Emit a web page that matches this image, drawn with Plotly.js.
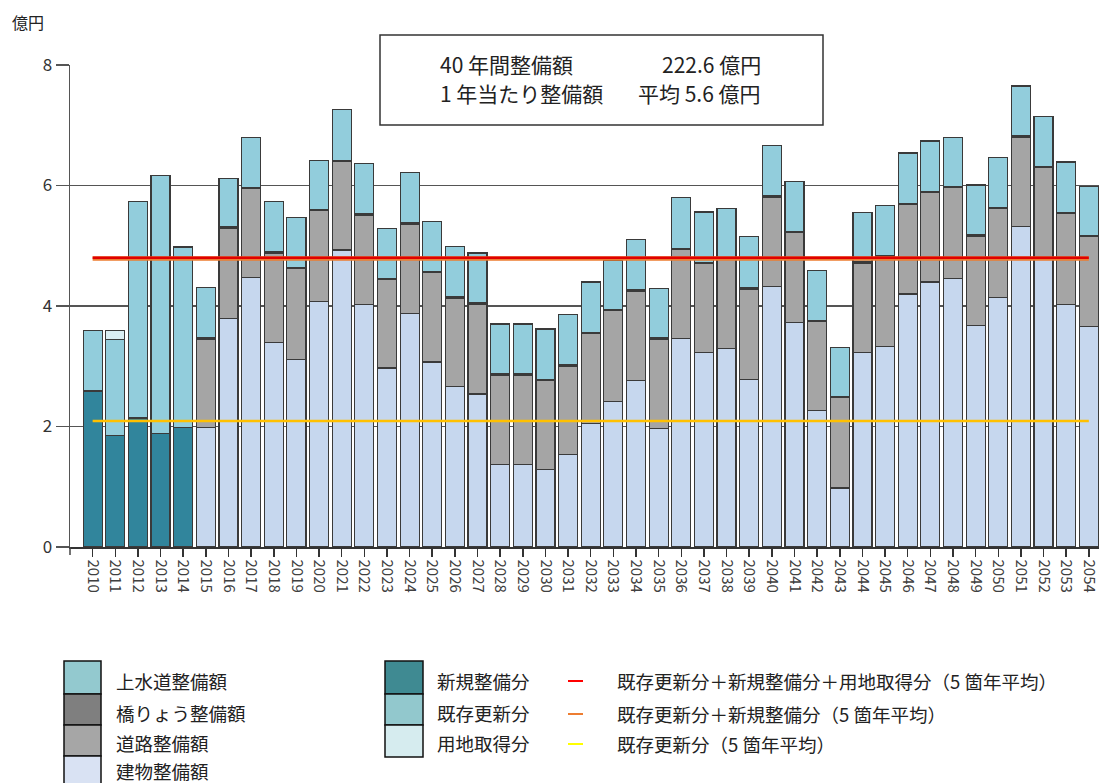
<!DOCTYPE html>
<html>
<head>
<meta charset="utf-8">
<script src="https://cdn.plot.ly/plotly-3.0.1.min.js"></script>
<style>
html,body{margin:0;padding:0;background:#fff;}
#chart{width:1099px;height:783px;}
</style>
</head>
<body>
<div id="chart"></div>
<script>
// ---- Data ----
const years = ["2010","2011","2012","2013","2014","2015","2016","2017","2018","2019","2020","2021","2022","2023","2024","2025","2026","2027","2028","2029","2030","2031","2032","2033","2034","2035","2036","2037","2038","2039","2040","2041","2042","2043","2044","2045","2046","2047","2048","2049","2050","2051","2052","2053","2054"];

// 2010-2014 (実績)
const newDev      = [2.59, 1.85, 2.14, 1.88, 1.98];
const existRenew  = [1.00, 1.59, 3.59, 4.29, 3.00];
const landAcq     = [0.00, 0.15, 0.00, 0.00, 0.00];

// 2015-2054 (推計)
const building = [1.98,3.79,4.47,3.40,3.11,4.08,4.93,4.03,2.97,3.88,3.07,2.66,2.54,1.37,1.37,1.28,1.53,2.05,2.42,2.77,1.97,3.46,3.23,3.29,2.78,4.33,3.72,2.26,0.98,3.23,3.33,4.20,4.40,4.46,3.68,4.14,5.32,4.80,4.03,3.66];
const road     = [1.47,1.50,1.48,1.48,1.51,1.50,1.47,1.48,1.47,1.48,1.48,1.47,1.49,1.48,1.48,1.48,1.47,1.49,1.50,1.48,1.48,1.48,1.47,1.50,1.50,1.48,1.50,1.48,1.50,1.48,1.49,1.48,1.48,1.51,1.48,1.48,1.48,1.50,1.50,1.49];
const bridge   = [0.02,0.02,0.02,0.02,0.02,0.02,0.02,0.02,0.02,0.02,0.02,0.02,0.02,0.02,0.02,0.02,0.02,0.02,0.02,0.02,0.02,0.02,0.02,0.02,0.02,0.02,0.02,0.02,0.02,0.02,0.02,0.02,0.02,0.02,0.02,0.02,0.02,0.02,0.02,0.02];
const water    = [0.84,0.81,0.83,0.83,0.83,0.81,0.84,0.84,0.83,0.83,0.83,0.84,0.83,0.83,0.83,0.84,0.84,0.84,0.81,0.83,0.82,0.84,0.84,0.81,0.85,0.84,0.82,0.83,0.81,0.82,0.83,0.84,0.84,0.81,0.83,0.83,0.83,0.83,0.84,0.82];

// 5箇年平均
const avgAll      = 4.80; // 既存更新分＋新規整備分＋用地取得分
const avgNewExist = 4.79; // 既存更新分＋新規整備分
const avgExist    = 2.09; // 既存更新分

const actualYears = years.slice(0, 5);
const futureYears = years.slice(5);

const FONT = '"Noto Sans CJK JP", "Noto Sans", sans-serif';
const outline = {color: '#3a3a3a', width: 1.2};

function bar(name, x, y, color) {
  return {type: 'bar', name: name, x: x, y: y, marker: {color: color, line: outline},
          showlegend: false, hoverinfo: 'x+y+name'};
}

const traces = [
  bar('新規整備分', actualYears, newDev, '#31859C'),
  bar('既存更新分', actualYears, existRenew, '#92CDDC'),
  bar('用地取得分', actualYears, landAcq, '#DAEEF3'),
  bar('建物整備額', futureYears, building, '#C6D7EE'),
  bar('道路整備額', futureYears, road, '#A5A5A5'),
  bar('橋りょう整備額', futureYears, bridge, '#7F7F7F'),
  bar('上水道整備額', futureYears, water, '#92CDDC'),
  {type: 'scatter', mode: 'lines', name: '既存更新分＋新規整備分（5箇年平均）',
   x: [years[0], years[years.length-1]], y: [avgNewExist, avgNewExist],
   line: {color: '#ED7D31', width: 4.5}, showlegend: false},
  {type: 'scatter', mode: 'lines', name: '既存更新分＋新規整備分＋用地取得分（5箇年平均）',
   x: [years[0], years[years.length-1]], y: [avgAll, avgAll],
   line: {color: '#E00000', width: 2.5}, showlegend: false},
  {type: 'scatter', mode: 'lines', name: '既存更新分（5箇年平均）',
   x: [years[0], years[years.length-1]], y: [avgExist, avgExist],
   line: {color: '#FFC000', width: 2.5}, showlegend: false}
];

// pixel -> paper helpers (plot area: x 70..1099, y 65..547)
const L = 70, R = 1099, T = 65, B = 547;
const px = v => (v - L) / (R - L);
const py = v => (B - v) / (B - T);

const shapes = [];
const annotations = [];

// small extension of the y axis below the x axis
shapes.push({type: 'line', xref: 'paper', yref: 'paper', x0: 0, x1: 0, y0: py(555), y1: 0,
             line: {color: '#444', width: 1.5}});

// Title box
shapes.push({type: 'rect', xref: 'paper', yref: 'paper', x0: px(380), x1: px(823), y0: py(125), y1: py(35),
             fillcolor: '#ffffff', line: {color: '#333', width: 1.5}, layer: 'above'});
const boxFont = {family: FONT, size: 21, color: '#222'};
annotations.push({xref: 'paper', yref: 'paper', x: px(438), y: py(64), xanchor: 'left', yanchor: 'middle',
                  text: '40 年間整備額', showarrow: false, font: boxFont});
annotations.push({xref: 'paper', yref: 'paper', x: px(763), y: py(64), xanchor: 'right', yanchor: 'middle',
                  text: '222.6 億円', showarrow: false, font: boxFont});
annotations.push({xref: 'paper', yref: 'paper', x: px(438), y: py(93), xanchor: 'left', yanchor: 'middle',
                  text: '1 年当たり整備額', showarrow: false, font: boxFont});
annotations.push({xref: 'paper', yref: 'paper', x: px(763), y: py(93), xanchor: 'right', yanchor: 'middle',
                  text: '平均 5.6 億円', showarrow: false, font: boxFont});

// unit label
annotations.push({xref: 'paper', yref: 'paper', x: px(10), y: py(22), xanchor: 'left', yanchor: 'middle',
                  text: '億円', showarrow: false, font: {family: FONT, size: 16, color: '#222'}});

// Legend
const legFont = {family: FONT, size: 18.5, color: '#222'};
const leftItems = [
  ['上水道整備額', '#93C9CF', 661, 694],
  ['橋りょう整備額', '#7F7F7F', 694, 725],
  ['道路整備額', '#A6A6A6', 725, 756],
  ['建物整備額', '#D9E2F3', 756, 790]
];
leftItems.forEach((it, i) => {
  shapes.push({type: 'rect', xref: 'paper', yref: 'paper', x0: px(64), x1: px(101), y0: py(it[3]), y1: py(it[2]),
               fillcolor: it[1], line: {color: '#111', width: 1.5}});
  const cy = [681, 713, 743, 771][i];
  annotations.push({xref: 'paper', yref: 'paper', x: px(114), y: py(cy),
                    xanchor: 'left', yanchor: 'middle', text: it[0], showarrow: false, font: legFont});
});
const midItems = [
  ['新規整備分', '#3F8A92', 661, 694],
  ['既存更新分', '#92C8CD', 694, 725],
  ['用地取得分', '#D6ECEF', 725, 757]
];
midItems.forEach((it, i) => {
  shapes.push({type: 'rect', xref: 'paper', yref: 'paper', x0: px(385), x1: px(423), y0: py(it[3]), y1: py(it[2]),
               fillcolor: it[1], line: {color: '#111', width: 1.5}});
  const cy = [681, 713, 743][i];
  annotations.push({xref: 'paper', yref: 'paper', x: px(435), y: py(cy),
                    xanchor: 'left', yanchor: 'middle', text: it[0], showarrow: false, font: legFont});
});
const rightItems = [
  ['既存更新分＋新規整備分＋用地取得分（5 箇年平均）', '#FF0000', 681],
  ['既存更新分＋新規整備分（5 箇年平均）', '#ED7D31', 714],
  ['既存更新分（5 箇年平均）', '#FFFF00', 744]
];
rightItems.forEach(it => {
  shapes.push({type: 'line', xref: 'paper', yref: 'paper', x0: px(568), x1: px(583), y0: py(it[2]), y1: py(it[2]),
               line: {color: it[1], width: 2}});
  annotations.push({xref: 'paper', yref: 'paper', x: px(615), y: py(it[2]),
                    xanchor: 'left', yanchor: 'middle', text: it[0], showarrow: false, font: legFont});
});

const layout = {
  width: 1099, height: 783,
  margin: {l: L, r: 1099 - R, t: T, b: 783 - B, pad: 0},
  paper_bgcolor: '#ffffff', plot_bgcolor: '#ffffff',
  barmode: 'stack', bargap: 0.16,
  showlegend: false,
  font: {family: FONT, color: '#333'},
  xaxis: {
    type: 'category', categoryorder: 'array', categoryarray: years,
    range: [-1, 44.45], tickangle: 90,
    tickfont: {family: FONT, size: 15, color: '#404040'},
    showline: true, linecolor: '#333', linewidth: 1.5,
    ticks: 'outside', ticklen: 8, tickcolor: '#333', tickwidth: 1.5,
    showgrid: false, zeroline: false, fixedrange: true
  },
  yaxis: {
    range: [0, 8], tickvals: [0, 2, 4, 6, 8], ticktext: ['0', '2', '4', '6', '8'],
    tickfont: {family: FONT, size: 17, color: '#333'},
    showline: true, linecolor: '#555', linewidth: 1.5,
    ticks: 'outside', ticklen: 13, tickcolor: '#555', tickwidth: 1.5,
    showgrid: true, gridcolor: '#555', gridwidth: 1.5,
    zeroline: false, fixedrange: true
  },
  shapes: shapes,
  annotations: annotations
};

Plotly.newPlot('chart', traces, layout, {displayModeBar: false, staticPlot: true});
</script>
</body>
</html>
